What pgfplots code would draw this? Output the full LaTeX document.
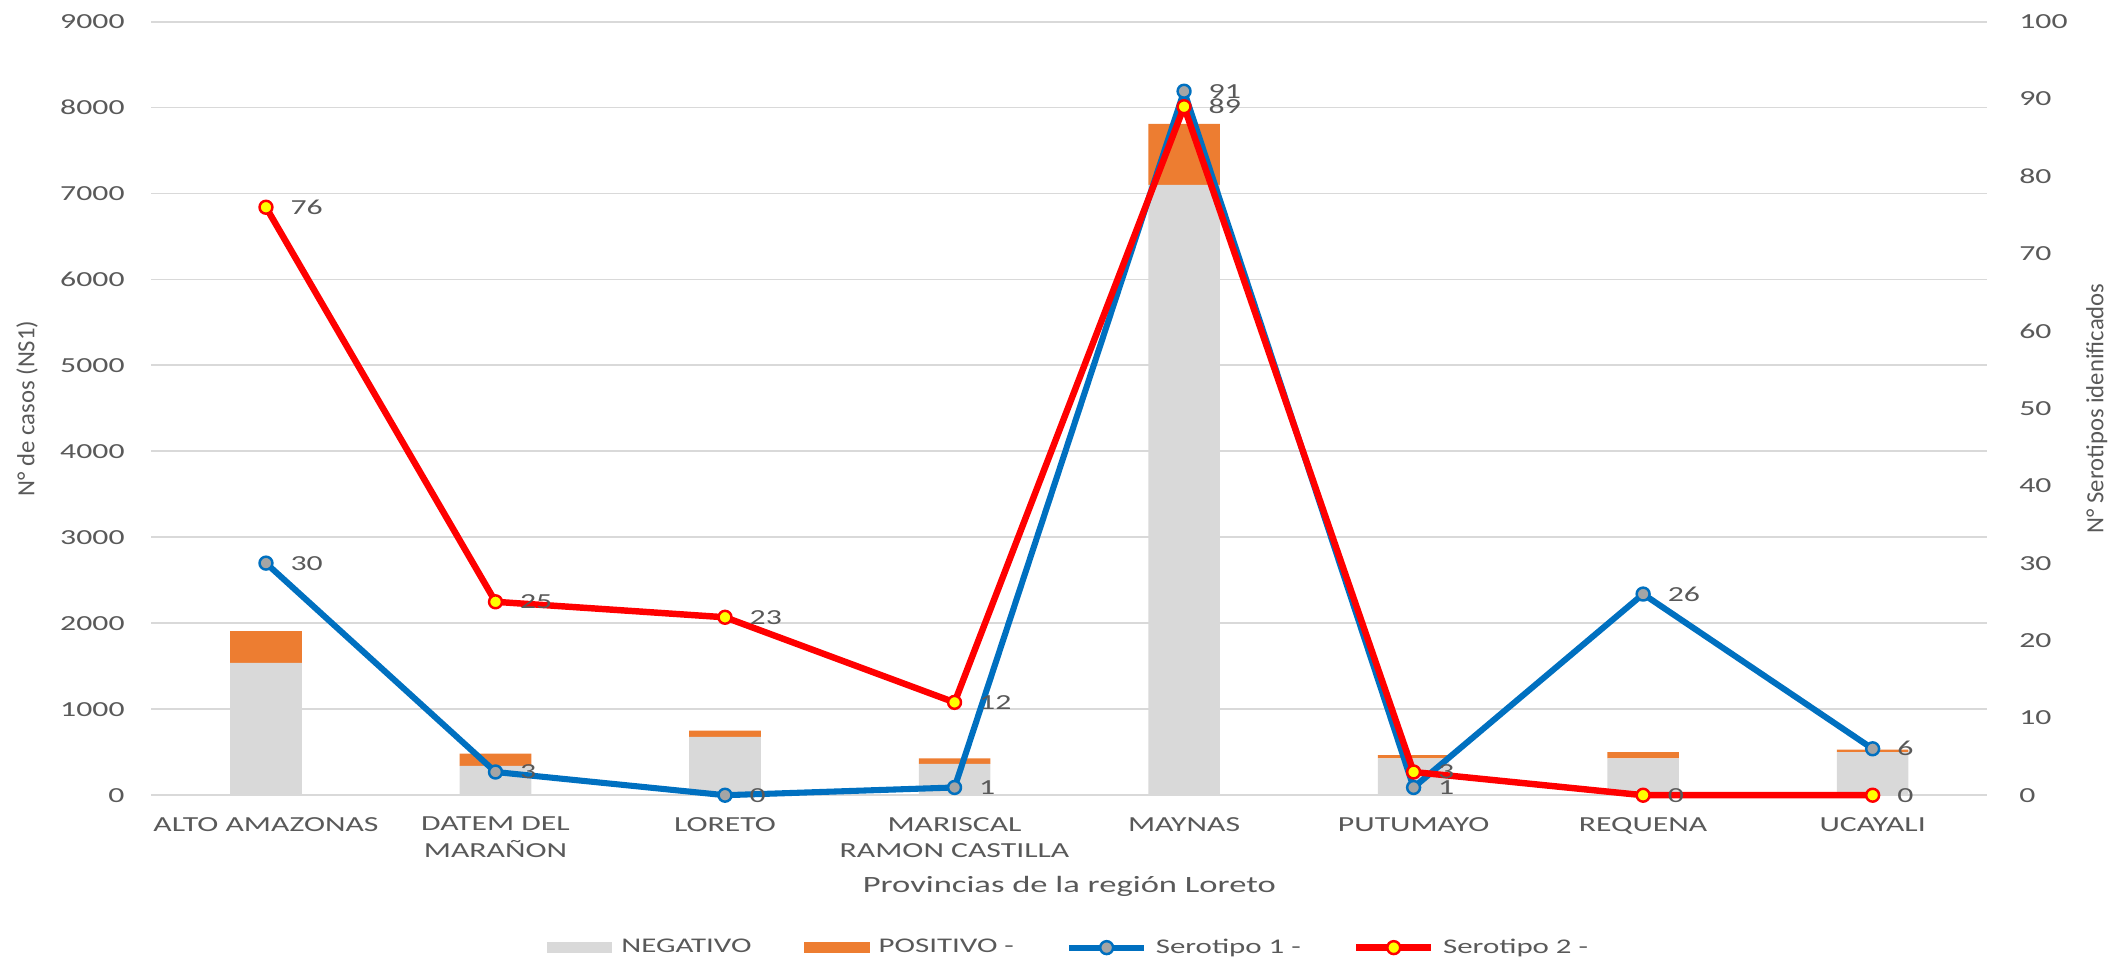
\documentclass[border=0pt]{standalone}
\usepackage{pgfplots}
\usepackage{pgfplotstable}
\pgfplotsset{compat=1.18}
\usepackage{fontspec}
\setmainfont{Carlito}[FakeStretch=1.48]
\newfontfamily\rotfont{Carlito}
\definecolor{neggray}{HTML}{D9D9D9}
\definecolor{posorange}{HTML}{ED7D31}
\definecolor{sblue}{HTML}{0070C0}
\definecolor{smark}{HTML}{A5A5A5}
\definecolor{sred}{HTML}{FF0000}
\definecolor{syellow}{HTML}{FFFF00}
\definecolor{gridgray}{HTML}{D9D9D9}
\definecolor{labelgray}{HTML}{595959}

\pgfplotstableread{
x neg pos s1 s2
0 1540 370 30 76
1 340 145 3 25
2 680 70 0 23
3 365 65 1 12
4 7100 710 91 89
5 430 35 1 3
6 430 70 26 0
7 500 30 6 0
}\data

\begin{document}
\begin{tikzpicture}
\begin{axis}[name=main, scale only axis, width=34cm, height=14.325cm,
  xmin=-0.5, xmax=7.5, ymin=0, ymax=9000,
  ytick={0,1000,...,9000}, xtick={0,...,7},
  xticklabels={ALTO AMAZONAS,{DATEM DEL\\MARAÑON},LORETO,{MARISCAL\\RAMON CASTILLA},MAYNAS,PUTUMAYO,REQUENA,UCAYALI},
  ybar stacked, bar width=1.325cm,
  ymajorgrids, grid style={gridgray, line width=1pt},
  axis line style={draw=none}, major tick length=0pt,
  tick label style={font=\fontsize{11.3}{14.2}\selectfont, text=labelgray},
  xticklabel style={align=center, anchor=north, yshift=-8pt},
  yticklabel style={anchor=east, xshift=-10.5pt},
  scaled y ticks=false,
  yticklabel={\pgfmathprintnumber[1000 sep={},assume math mode=true]{\tick}},
  ylabel={N° de casos (NS1)},
  ylabel style={at={(axis description cs:-0.0676,0.5)}, anchor=center, font=\rotfont\fontsize{13}{15}\selectfont, text=labelgray},
  xlabel={Provincias de la región Loreto},
  xlabel style={at={(axis description cs:0.5,-0.1257)}, anchor=base, font=\fontsize{12.3}{15}\selectfont, text=labelgray},
]
\addplot[fill=neggray, draw=none] table[x=x, y=neg]{\data};
\addplot[fill=posorange, draw=none] table[x=x, y=pos]{\data};
\end{axis}
\begin{axis}[scale only axis, width=34cm, height=14.325cm,
  xmin=-0.5, xmax=7.5, ymin=0, ymax=100,
  ytick={0,10,...,100},
  axis y line*=right, axis x line=none,
  axis line style={draw=none}, major tick length=0pt,
  tick label style={font=\fontsize{11.3}{14.2}\selectfont, text=labelgray},
  yticklabel style={anchor=west, xshift=13.3pt},
  yticklabel={\pgfmathprintnumber[assume math mode=true]{\tick}},
  ylabel={N° Serotipos idenificados},
  ylabel style={at={(axis description cs:1.0596,0.5)}, anchor=center, rotate=0, font=\rotfont\fontsize{13}{15}\selectfont, text=labelgray},
  clip=false,
  legend style={draw=none, fill=none, at={(0.5,-0.197)}, anchor=center,
    font=\fontsize{11}{13}\selectfont, text=labelgray,
    /tikz/every even column/.append style={column sep=0.9cm},
    /tikz/every odd column/.append style={column sep=0.1cm}},
  legend columns=4,
]
\addlegendimage{legend image code/.code={\fill[neggray] (0cm,-0.0925cm) rectangle (1.2cm,0.0925cm);}}
\addlegendimage{legend image code/.code={\fill[posorange] (0cm,-0.0925cm) rectangle (1.2cm,0.0925cm);}}
\addlegendimage{legend image code/.code={\draw[sblue, line width=3.2pt, mark=*, mark size=3.4pt, mark options={fill=smark, draw=sblue, line width=1.3pt}, mark repeat=2, mark phase=2] plot coordinates {(0cm,0cm) (0.69cm,0cm) (1.375cm,0cm)};}}
\addlegendimage{legend image code/.code={\draw[sred, line width=3.4pt, mark=*, mark size=3.4pt, mark options={fill=syellow, draw=sred, line width=1.3pt}, mark repeat=2, mark phase=2] plot coordinates {(0cm,0cm) (0.69cm,0cm) (1.375cm,0cm)};}}
\addplot[forget plot, sblue, line width=3.2pt, line join=round, mark=*, mark size=3.4pt,
  mark options={fill=smark, draw=sblue, line width=1.3pt},
  nodes near coords={\pgfmathprintnumber[assume math mode=true]{\pgfplotspointmeta}},
  every node near coord/.append style={anchor=west, xshift=9pt, font=\fontsize{11.3}{13}\selectfont, text=labelgray}]
  table[x=x, y=s1]{\data};
\addplot[forget plot, sred, line width=3.4pt, line join=round, mark=*, mark size=3.4pt,
  mark options={fill=syellow, draw=sred, line width=1.3pt},
  nodes near coords={\pgfmathprintnumber[assume math mode=true]{\pgfplotspointmeta}},
  every node near coord/.append style={anchor=west, xshift=9pt, font=\fontsize{11.3}{13}\selectfont, text=labelgray}]
  table[x=x, y=s2]{\data};
\legend{NEGATIVO, POSITIVO -, Serotipo 1 -, Serotipo 2 -}
\end{axis}
\pgfresetboundingbox
\path[use as bounding box] ([shift={(-2.8cm,-3.025cm)}]main.south west) rectangle ([shift={(2.4cm,0.4cm)}]main.north east);
\end{tikzpicture}
\end{document}
